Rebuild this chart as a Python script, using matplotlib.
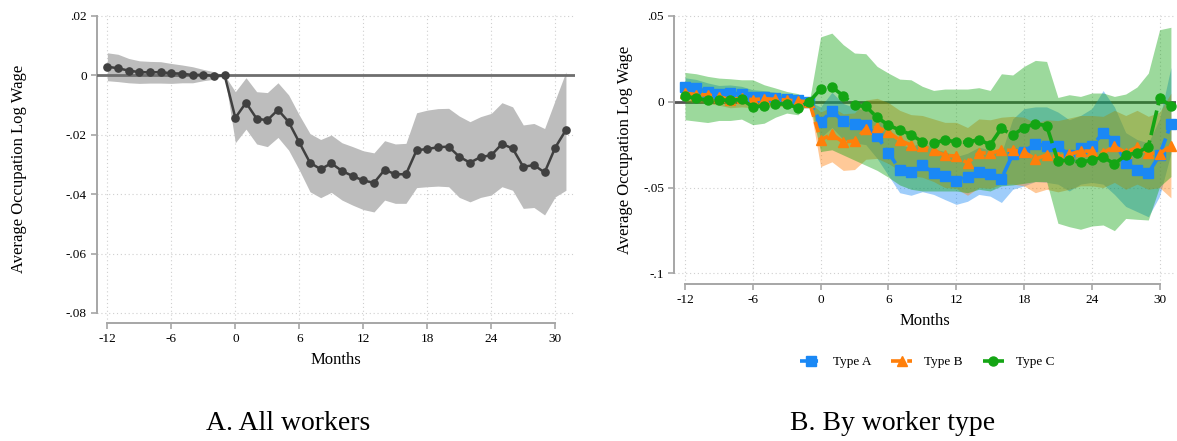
import matplotlib
matplotlib.use("Agg")
import matplotlib.pyplot as plt

plt.rcParams["font.family"] = ["Liberation Serif", "DejaVu Serif"]

# ---- data ----
months = list(range(-12, 32))

all_est = [0.0029, 0.0024, 0.0016, 0.0011, 0.0010, 0.0011, 0.0007, 0.0006, 0.0001, 0.0002, -0.0002, 0.0,
           -0.0143, -0.0092, -0.0146, -0.0151, -0.0116, -0.0157, -0.0226, -0.0294, -0.0316, -0.0296,
           -0.0322, -0.0339, -0.0354, -0.0362, -0.0318, -0.0333, -0.0333, -0.0252, -0.0248, -0.0242,
           -0.0240, -0.0274, -0.0294, -0.0275, -0.0269, -0.0231, -0.0246, -0.0308, -0.0302, -0.0327,
           -0.0243, -0.0184]
all_hi = [0.0076, 0.0071, 0.0057, 0.0049, 0.0047, 0.0046, 0.0040, 0.0035, 0.0029, 0.0020, 0.0012, 0.0,
          -0.0055, -0.0008, -0.0055, -0.0058, -0.0025, -0.0066, -0.0134, -0.0196, -0.0216, -0.0201,
          -0.0227, -0.0240, -0.0254, -0.0261, -0.0220, -0.0231, -0.0229, -0.0126, -0.0117, -0.0112,
          -0.0111, -0.0137, -0.0156, -0.0139, -0.0128, -0.0092, -0.0106, -0.0167, -0.0162, -0.0179,
          -0.0083, 0.0012]
all_lo = [-0.0018, -0.0021, -0.0025, -0.0027, -0.0026, -0.0026, -0.0027, -0.0025, -0.0025, -0.0018, -0.0013, 0.0,
          -0.0227, -0.0181, -0.0231, -0.0240, -0.0209, -0.0252, -0.0319, -0.0392, -0.0412, -0.0394,
          -0.0420, -0.0437, -0.0452, -0.0460, -0.0420, -0.0431, -0.0431, -0.0378, -0.0375, -0.0373,
          -0.0375, -0.0411, -0.0426, -0.0411, -0.0403, -0.0375, -0.0387, -0.0448, -0.0445, -0.0470,
          -0.0409, -0.0387]

a_est = [0.0086, 0.0078, 0.0058, 0.0045, 0.0052, 0.0045, 0.0028, 0.0028, 0.0020, 0.0018, 0.0012, 0.0,
         -0.0120, -0.0052, -0.0114, -0.0130, -0.0136, -0.0200, -0.0297, -0.0395, -0.0407, -0.0370,
         -0.0413, -0.0432, -0.0460, -0.0441, -0.0407, -0.0420, -0.0448, -0.0307, -0.0290, -0.0246,
         -0.0256, -0.0257, -0.0313, -0.0271, -0.0258, -0.0182, -0.0227, -0.0355, -0.0395, -0.0417,
         -0.0310, -0.0131]
a_hi = [0.0140, 0.0130, 0.0110, 0.0095, 0.0098, 0.0090, 0.0070, 0.0065, 0.0055, 0.0045, 0.0035, 0.0,
        -0.0030, 0.0055, -0.0010, -0.0035, -0.0050, -0.0090, -0.0150, -0.0250, -0.0265, -0.0230,
        -0.0275, -0.0290, -0.0320, -0.0300, -0.0265, -0.0280, -0.0300, -0.0100, -0.0040, -0.0030,
        -0.0030, -0.0060, -0.0105, -0.0080, -0.0040, 0.0065, -0.0030, -0.0180, -0.0220, -0.0240,
        -0.0100, 0.0200]
a_lo = [0.0030, 0.0025, 0.0005, -0.0005, 0.0005, 0.0000, -0.0015, -0.0010, -0.0015, -0.0010, -0.0010, 0.0,
        -0.0210, -0.0150, -0.0220, -0.0240, -0.0250, -0.0330, -0.0430, -0.0530, -0.0545, -0.0524,
        -0.0540, -0.0570, -0.0598, -0.0580, -0.0540, -0.0550, -0.0587, -0.0510, -0.0490, -0.0465,
        -0.0470, -0.0480, -0.0520, -0.0480, -0.0470, -0.0480, -0.0540, -0.0610, -0.0640, -0.0670,
        -0.0550, -0.0300]

b_est = [0.0050, 0.0042, 0.0040, 0.0030, 0.0012, 0.0020, 0.0012, 0.0018, 0.0014, 0.0010, 0.0004, 0.0,
         -0.0222, -0.0190, -0.0235, -0.0228, -0.0156, -0.0149, -0.0177, -0.0224, -0.0253, -0.0260,
         -0.0283, -0.0313, -0.0316, -0.0358, -0.0297, -0.0300, -0.0283, -0.0282, -0.0292, -0.0334,
         -0.0310, -0.0322, -0.0307, -0.0287, -0.0288, -0.0297, -0.0260, -0.0296, -0.0265, -0.0298,
         -0.0303, -0.0255]
b_hi = [0.0095, 0.0085, 0.0082, 0.0072, 0.0055, 0.0060, 0.0050, 0.0052, 0.0045, 0.0038, 0.0025, 0.0,
        -0.0060, -0.0030, -0.0070, -0.0065, 0.0010, 0.0020, -0.0005, -0.0050, -0.0075, -0.0080,
        -0.0100, -0.0120, -0.0120, -0.0150, -0.0100, -0.0105, -0.0090, -0.0085, -0.0090, -0.0125,
        -0.0105, -0.0110, -0.0095, -0.0080, -0.0080, -0.0085, -0.0050, -0.0080, -0.0050, -0.0085,
        -0.0060, 0.0050]
b_lo = [0.0000, -0.0005, -0.0010, -0.0020, -0.0035, -0.0030, -0.0035, -0.0030, -0.0030, -0.0025, -0.0015, 0.0,
        -0.0378, -0.0350, -0.0400, -0.0395, -0.0335, -0.0330, -0.0360, -0.0400, -0.0430, -0.0440,
        -0.0465, -0.0500, -0.0505, -0.0545, -0.0500, -0.0505, -0.0480, -0.0480, -0.0490, -0.0530,
        -0.0510, -0.0525, -0.0510, -0.0490, -0.0490, -0.0500, -0.0470, -0.0510, -0.0480, -0.0510,
        -0.0500, -0.0560]

c_est = [0.0031, 0.0021, 0.0008, 0.0012, 0.0008, 0.0014, -0.0029, -0.0023, -0.0012, -0.0014, -0.0035, 0.0,
         0.0074, 0.0086, 0.0035, -0.0021, -0.0027, -0.0091, -0.0136, -0.0165, -0.0191, -0.0234,
         -0.0242, -0.0223, -0.0234, -0.0237, -0.0220, -0.0251, -0.0155, -0.0195, -0.0151, -0.0128,
         -0.0139, -0.0344, -0.0341, -0.0352, -0.0340, -0.0322, -0.0362, -0.0312, -0.0297, -0.0262,
         0.0019, -0.0022]
c_hi = [0.0171, 0.0163, 0.0148, 0.0138, 0.0134, 0.0128, 0.0128, 0.0099, 0.0080, 0.0060, 0.0047, 0.0,
        0.0378, 0.0400, 0.0333, 0.0284, 0.0280, 0.0206, 0.0167, 0.0132, 0.0128, 0.0090,
        0.0066, 0.0074, 0.0074, 0.0074, 0.0082, 0.0066, 0.0163, 0.0156, 0.0206, 0.0241,
        0.0235, 0.0025, 0.0041, 0.0031, 0.0051, 0.0051, 0.0031, 0.0045, 0.0086, 0.0167,
        0.0420, 0.0434]
c_lo = [-0.0105, -0.0113, -0.0121, -0.0109, -0.0109, -0.0101, -0.0134, -0.0125, -0.0090, -0.0066, -0.0076, 0.0,
        -0.0290, -0.0280, -0.0310, -0.0340, -0.0370, -0.0400, -0.0440, -0.0485, -0.0510, -0.0520,
        -0.0520, -0.0520, -0.0520, -0.0530, -0.0510, -0.0520, -0.0490, -0.0485, -0.0475, -0.0465,
        -0.0465, -0.0708, -0.0728, -0.0743, -0.0724, -0.0718, -0.0751, -0.0680, -0.0685, -0.0689,
        -0.0494, -0.0436]

x_ticks = [-12, -6, 0, 6, 12, 18, 24, 30]
ya_ticks = [0.02, 0, -0.02, -0.04, -0.06, -0.08]
ya_labels = [".02", "0", "-.02", "-.04", "-.06", "-.08"]
yb_ticks = [0.05, 0, -0.05, -0.1]
yb_labels = [".05", "0", "-.05", "-.1"]
type_names = ["Type A", "Type B", "Type C"]

W, H = 1177, 441
fig = plt.figure(figsize=(W / 100, H / 100), dpi=100)


def px_axes(left, top, right, bottom):
    return fig.add_axes([left / W, 1 - bottom / H, (right - left) / W, (bottom - top) / H])


def style_axes(ax, yticks, ylabels, ybounds, ypad):
    for s in ["top", "right"]:
        ax.spines[s].set_visible(False)
    for s in ["left", "bottom"]:
        ax.spines[s].set_color("#a6a6a6")
        ax.spines[s].set_linewidth(1.4)
    ax.spines["left"].set_bounds(*ybounds)
    ax.spines["bottom"].set_bounds(-12, 30)
    ax.set_xticks(x_ticks)
    ax.set_xticklabels([str(t) for t in x_ticks])
    ax.set_yticks(yticks)
    ax.set_yticklabels(ylabels)
    ax.tick_params(length=4, width=1.2, color="#a6a6a6", labelsize=9.5, pad=3)
    ax.grid(True, linestyle=(0, (1, 2.5)), color="#cfcfcf", linewidth=0.8)
    ax.set_axisbelow(True)
    ax.set_xlabel("Months", fontsize=12, labelpad=5)
    ax.set_ylabel("Average Occupation Log Wage", fontsize=12, labelpad=ypad)


# ---- panel A ----
ax1 = px_axes(96.7, 14.5, 575, 323.3)
ax1.fill_between(months, all_lo, all_hi, color="#bdbdbd", linewidth=0, zorder=2)
ax1.axhline(0, color="#6e6e6e", linewidth=2, zorder=3)
ax1.plot(months, all_est, color="#404040", linewidth=1.8, marker="o", markersize=5.2, zorder=4)
ax1.set_xlim(-13.0, 31.85)
ax1.set_ylim(-0.0835, 0.0205)
style_axes(ax1, ya_ticks, ya_labels, (-0.08, 0.02), 28)

# ---- panel B ----
ax2 = px_axes(673.7, 15.1, 1176, 284)
ax2.axhline(0, color="#555555", linewidth=2, zorder=1)
colors = ["#1a88f5", "#ff7f0a", "#14a514"]
fills = [(a_lo, a_hi), (b_lo, b_hi), (c_lo, c_hi)]
ests = [a_est, b_est, c_est]
markers = ["s", "^", "o"]
msizes = [6.5, 7, 6.5]
dashes = [(0, (5, 1.5)), (0, (3, 1.5)), (0, (7, 1.5))]
for (lo, hi), col in zip(fills, colors):
    ax2.fill_between(months, lo, hi, color=col, alpha=0.42, linewidth=0, zorder=2)
for est, col, mk, ms, ds, name in zip(ests, colors, markers, msizes, dashes, type_names):
    ax2.plot(months, est, color=col, linewidth=2.6, linestyle=ds, marker=mk,
             markersize=ms, label=name, zorder=4)
ax2.set_xlim(-13.0, 31.45)
ax2.set_ylim(-0.1062, 0.0505)
style_axes(ax2, yb_ticks, yb_labels, (-0.1, 0.05), 7)

leg = ax2.legend(loc="center", bbox_to_anchor=(927 / W, 1 - 362 / H), bbox_transform=fig.transFigure,
                 ncol=3, frameon=False, fontsize=9.5, handlelength=1.6, columnspacing=1.5,
                 handletextpad=0.9)

fig.text(288 / W, 1 - 424 / H, "A. All workers", ha="center", va="center", fontsize=20)
fig.text(893 / W, 1 - 424 / H, "B. By worker type", ha="center", va="center", fontsize=20)

fig.savefig("out.png", dpi=100)
